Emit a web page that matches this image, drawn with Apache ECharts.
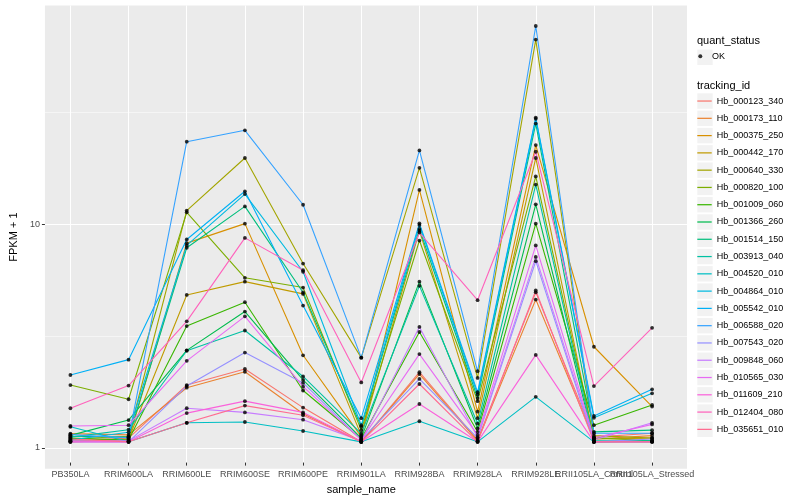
<!DOCTYPE html>
<html><head><meta charset="utf-8">
<script src="https://cdn.jsdelivr.net/npm/echarts@6/dist/echarts.min.js"></script>
<style>html,body{margin:0;padding:0;background:#fff}#c{width:800px;height:500px}</style>
</head><body><div id="c"></div>
<script>
// ---- data ----
const categories = ['PB350LA','RRIM600LA','RRIM600LE','RRIM600SE','RRIM600PE','RRIM901LA','RRIM928BA','RRIM928LA','RRIM928LE','RRII105LA_Control','RRII105LA_Stressed'];
const trackingIds = ['Hb_000123_340','Hb_000173_110','Hb_000375_250','Hb_000442_170','Hb_000640_330','Hb_000820_100','Hb_001009_060','Hb_001366_260','Hb_001514_150','Hb_003913_040','Hb_004520_010','Hb_004864_010','Hb_005542_010','Hb_006588_020','Hb_007543_020','Hb_009848_060','Hb_010565_030','Hb_011609_210','Hb_012404_080','Hb_035651_010'];
const seriesColors = ['#F8766D','#EA8331','#D89000','#C09B00','#A3A500','#7CAE00','#39B600','#00BB4E','#00BF7D','#00C1A3','#00BFC4','#00BAE0','#00B0F6','#35A2FF','#9590FF','#C77CFF','#E76BF3','#FA62DB','#FF62BC','#FF6C91'];
const hb_000123_340 = [1.01, 1.04, 1.81, 2.14, 1.43, 1.00, 2.07, 1.02, 4.77, 1.05, 1.094];
const hb_000173_110 = [1.09, 1.075, 1.76, 2.08, 1.34, 1.00, 2.03, 1.01, 4.42, 1.03, 1.067];
const hb_000375_250 = [1.00, 1.02, 7.97, 9.77, 2.47, 1.056, 13.9, 1.37, 22.2, 2.70, 1.445];
const hb_000442_170 = [1.01, 1.03, 4.64, 5.33, 4.69, 1.07, 9.08, 1.28, 19.4, 1.03, 1.04];
const hb_000640_330 = [1.03, 1.06, 11.2, 19.4, 6.44, 2.41, 17.5, 1.95, 66.8, 1.067, 1.04];
const hb_000820_100 = [1.81, 1.56, 11.0, 5.55, 5.01, 1.13, 8.19, 1.53, 16.0, 1.045, 1.01];
const hb_001009_060 = [1.04, 1.02, 3.35, 4.30, 1.71, 1.03, 3.15, 1.11, 9.77, 1.19, 1.47];
const hb_001366_260 = [1.07, 1.255, 2.60, 3.90, 1.91, 1.04, 5.33, 1.15, 11.96, 1.00, 1.01];
const hb_001514_150 = [1.06, 1.05, 7.59, 11.7, 4.76, 1.17, 9.24, 1.58, 27.8, 1.11, 1.13];
const hb_003913_040 = [1.05, 1.135, 2.59, 3.20, 1.98, 1.09, 5.10, 1.21, 14.7, 1.01, 1.01];
const hb_004520_010 = [1.17, 1.00, 1.22, 1.23, 1.12, 1.00, 1.24, 1.00, 1.60, 1.00, 1.00];
const hb_004864_010 = [1.02, 1.105, 7.78, 13.3, 5.91, 1.19, 9.63, 1.64, 29.2, 1.285, 1.66];
const hb_005542_010 = [2.01, 2.36, 8.28, 13.7, 4.15, 1.28, 9.80, 1.68, 29.6, 1.31, 1.73];
const hb_006588_020 = [1.08, 1.042, 23.0, 25.9, 11.9, 2.41, 21.0, 2.09, 77.0, 1.094, 1.094];
const hb_007543_020 = [1.00, 1.00, 1.79, 2.54, 1.85, 1.02, 1.93, 1.04, 6.60, 1.00, 1.03];
const hb_009848_060 = [1.01, 1.01, 1.42, 1.36, 1.26, 1.01, 3.32, 1.05, 6.90, 1.02, 1.22];
const hb_010565_030 = [1.18, 1.19, 2.33, 3.71, 1.78, 1.02, 2.50, 1.075, 7.78, 1.04, 1.20];
const hb_011609_210 = [1.00, 1.00, 1.35, 1.53, 1.36, 1.00, 1.485, 1.00, 2.48, 1.00, 1.00];
const hb_012404_080 = [1.42, 1.80, 3.52, 8.42, 6.01, 1.86, 8.90, 4.39, 20.7, 1.79, 3.29];
const hb_035651_010 = [1.03, 1.00, 1.22, 1.46, 1.32, 1.00, 1.83, 1.00, 4.86, 1.00, 1.00];
const seriesValues = [hb_000123_340, hb_000173_110, hb_000375_250, hb_000442_170, hb_000640_330, hb_000820_100, hb_001009_060, hb_001366_260, hb_001514_150, hb_003913_040, hb_004520_010, hb_004864_010, hb_005542_010, hb_006588_020, hb_007543_020, hb_009848_060, hb_010565_030, hb_011609_210, hb_012404_080, hb_035651_010];
const yMajorTicks = [1, 10];
const yMinorTicks = [3.1623, 31.623];
const quantStatus = ['OK'];

// ---- layout ----
const PANEL_L = 35.5, PANEL_R = 687, PANEL_T = 5.4, PANEL_B = 468.8;
const STEP = (PANEL_R - PANEL_L) / (categories.length - 1 + 1.2);
const Y_MIN = 0.805, Y_MAX = 95.5;
const FONT = '"Liberation Sans", Arial, Helvetica, sans-serif';
const KEY_X = 697.3, KEY_W = 15.4, KEY_STEP = 17.28, LEG_TOP = 92.4, OK_CY = 57.3;

const chart = echarts.init(document.getElementById('c'), null, {renderer: 'canvas'});

const series = trackingIds.map((id, k) => ({
  name: id, type: 'line', xAxisIndex: 1, yAxisIndex: 2,
  data: seriesValues[k], symbol: 'none', silent: true, z: 2,
  lineStyle: {width: 1.1, color: seriesColors[k]},
  itemStyle: {color: seriesColors[k]}
}));
const points = [];
seriesValues.forEach(arr => arr.forEach((v, i) => points.push([i, v])));
series.push({name: 'OK', type: 'scatter', xAxisIndex: 1, yAxisIndex: 2, data: points,
  symbol: 'circle', symbolSize: 3.8, itemStyle: {color: '#000'}, z: 3, silent: true});

const keyRects = [{type: 'rect', shape: {x: KEY_X, y: OK_CY - KEY_W / 2, width: KEY_W, height: KEY_W}, style: {fill: '#F2F2F2'}, z: 0}];
trackingIds.forEach((id, i) => {
  const cy = LEG_TOP + KEY_STEP / 2 + i * KEY_STEP;
  keyRects.push({type: 'rect', shape: {x: KEY_X, y: cy - KEY_W / 2, width: KEY_W, height: KEY_W}, style: {fill: '#F2F2F2'}, z: 0});
});

const option = {
  animation: false,
  color: seriesColors,
  textStyle: {fontFamily: FONT},
  title: [
    {text: 'quant_status', left: 697, top: 35.5, padding: 0, textStyle: {fontSize: 11, fontWeight: 'normal', color: '#000', fontFamily: FONT}},
    {text: 'tracking_id', left: 697, top: 80.5, padding: 0, textStyle: {fontSize: 11, fontWeight: 'normal', color: '#000', fontFamily: FONT}}
  ],
  graphic: keyRects,
  legend: [
    {data: quantStatus, orient: 'vertical', left: KEY_X + KEY_W / 2 - 6.7, top: OK_CY - 5.5, padding: 0,
      itemWidth: 13.4, itemHeight: 4, icon: 'circle', selectedMode: false, z: 4,
      itemStyle: {color: '#000', borderWidth: 0},
      textStyle: {fontSize: 9, color: '#000', fontFamily: FONT}},
    {data: trackingIds, orient: 'vertical', left: KEY_X, top: LEG_TOP, padding: 0,
      itemWidth: 14.4, itemHeight: KEY_STEP, itemGap: 0, icon: 'path://M0,0H14V1.2H0Z', selectedMode: false, z: 4,
      itemStyle: {borderWidth: 0},
      textStyle: {fontSize: 9, lineHeight: KEY_STEP, color: '#000', fontFamily: FONT}}
  ],
  grid: [
    {left: PANEL_L, right: 800 - PANEL_R, top: PANEL_T, bottom: 500 - PANEL_B, show: true, backgroundColor: '#EBEBEB', borderWidth: 0},
    {left: PANEL_L + 0.6 * STEP, right: 800 - (PANEL_R - 0.6 * STEP), top: PANEL_T, bottom: 500 - PANEL_B, show: false}
  ],
  xAxis: [
    {gridIndex: 0, type: 'value', show: false, min: 0, max: 1},
    {gridIndex: 1, type: 'category', data: categories, boundaryGap: false,
      axisLine: {show: false},
      axisTick: {show: true, length: 3, alignWithLabel: true, lineStyle: {color: '#333', width: 1}},
      axisLabel: {interval: 0, hideOverlap: false, margin: 7.5, fontSize: 9, color: '#4D4D4D', fontFamily: FONT},
      splitLine: {show: true, lineStyle: {color: '#FFFFFF', width: 1.07}},
      name: 'sample_name', nameLocation: 'middle', nameGap: 13.5,
      nameTextStyle: {fontSize: 11, color: '#000', fontFamily: FONT}}
  ],
  yAxis: [
    {gridIndex: 0, type: 'log', logBase: 10, min: Y_MIN, max: Y_MAX, position: 'left',
      axisLine: {show: false},
      axisTick: {show: true, length: 3, customValues: yMajorTicks, lineStyle: {color: '#333', width: 1}},
      axisLabel: {customValues: yMajorTicks, fontSize: 9, color: '#4D4D4D', margin: 5, fontFamily: FONT},
      splitLine: {show: true, lineStyle: {color: '#FFFFFF', width: 1.07}},
      minorTick: {show: false}, minorSplitLine: {show: false},
      name: 'FPKM + 1', nameLocation: 'middle', nameGap: 18, nameRotate: 90,
      nameTextStyle: {fontSize: 11, color: '#000', fontFamily: FONT}},
    {gridIndex: 0, type: 'log', logBase: 10, min: Y_MIN, max: Y_MAX, position: 'left',
      axisLine: {show: false}, axisLabel: {show: false},
      axisTick: {show: false, customValues: yMinorTicks},
      splitLine: {show: true, lineStyle: {color: '#FFFFFF', width: 0.53}}},
    {gridIndex: 1, type: 'log', logBase: 10, min: Y_MIN, max: Y_MAX, show: false}
  ],
  series: series
};
chart.setOption(option);
</script>
</body></html>
